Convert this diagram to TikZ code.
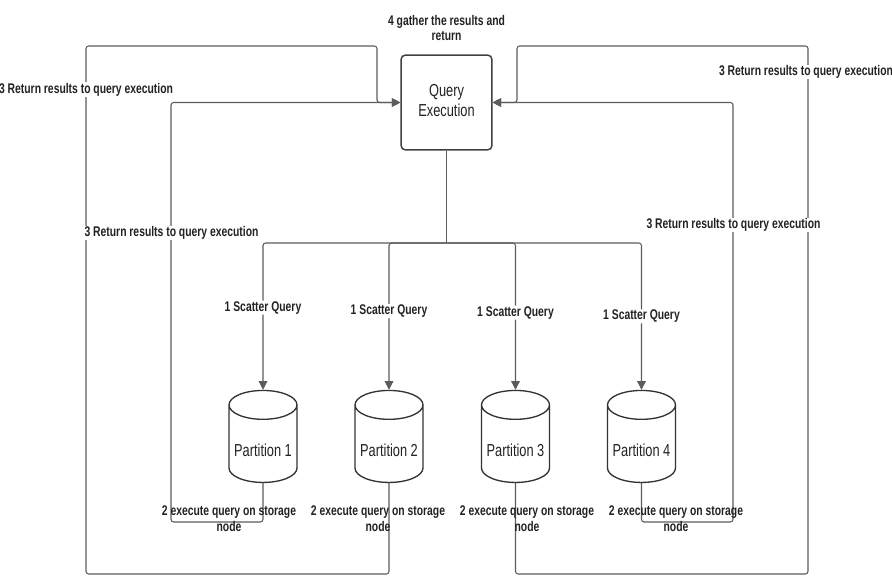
\documentclass[tikz,border=0pt]{standalone}
\usepackage{fontspec}
\setmainfont{Liberation Sans}[FakeStretch=0.74]
\usetikzlibrary{positioning,shapes.geometric,arrows.meta}
\definecolor{linegray}{HTML}{5C5C5C}
\definecolor{ink}{HTML}{222222}

\begin{document}
\begin{tikzpicture}[x=0.75pt,y=-0.75pt,
  wire/.style={draw=linegray,line width=0.8pt,rounded corners=2pt},
  arr/.style={wire,-{Triangle[length=6.5pt,width=6.5pt]}},
  qbox/.style={draw=black!75,line width=1.1pt,rounded corners=3pt,minimum width=68pt,minimum height=71pt,align=center,text=ink,font=\fontsize{13}{15}\selectfont},
  store/.style={cylinder,shape border rotate=90,draw=black!80,line width=1pt,aspect=0.5,minimum width=51pt,minimum height=69pt,inner sep=0pt,font=\fontsize{13}{15}\selectfont},
  ptext/.style={text=ink,font=\fontsize{13}{15}\selectfont,yshift=-5pt},
  lbl/.style={fill=white,inner sep=0.5pt,text=ink,font=\bfseries\fontsize{10.5}{12}\selectfont},
  note/.style={align=center,inner sep=0pt,text=ink,font=\bfseries\fontsize{10.5}{12}\selectfont}]
\useasboundingbox (0,0) rectangle (892,577);
\node[qbox] (qe) at (446.5,102.5) {\raisebox{3pt}{\begin{tabular}{@{}c@{}}Query\\Execution\end{tabular}}};
\node[note] (gather) at (446.5,28) {4 gather the results and\\return};
\foreach \i/\xx in {1/263,2/389,3/515.5,4/641.5} {\node[store,label={[ptext]center:Partition \i}] (p\i) at (\xx,444) {\phantom{Partition \i}};}
\coordinate (bus) at (446.5,243);
\coordinate (l1) at (171,522);
\coordinate (l2) at (86,574);
\coordinate (tl) at (377,46);
\coordinate (r1) at (733,522);
\coordinate (r2) at (808,574);
\coordinate (tr) at (517,46);
\draw[wire] (qe.south) -- (bus);
\foreach \i/\q in {1/0.72,2/0.732,3/0.737,4/0.75} {\draw[arr] (bus) -| node[lbl,pos=\q] {1 Scatter Query} (p\i.north);}
\draw[arr] (p1.south) |- (l1) |- (qe.west);
\draw[arr] (p2.south) |- (l2) |- (tl) |- (qe.west);
\draw[arr] (p3.south) |- (r2) |- (tr) |- (qe.east);
\draw[arr] (p4.south) |- (r1) |- (qe.east);
\node[lbl] (ret1) at (86,89.5) {3 Return results to query execution};
\node[lbl] (ret2) at (171.5,233) {3 Return results to query execution};
\node[lbl] (ret3) at (806,72) {3 Return results to query execution};
\node[lbl] (ret4) at (733.5,225) {3 Return results to query execution};
\foreach \i/\xx in {1/229,2/378,3/527,4/676} {\node[note] (exec\i) at (\xx,519) {2 execute query on storage\\node};}
\end{tikzpicture}
\end{document}
